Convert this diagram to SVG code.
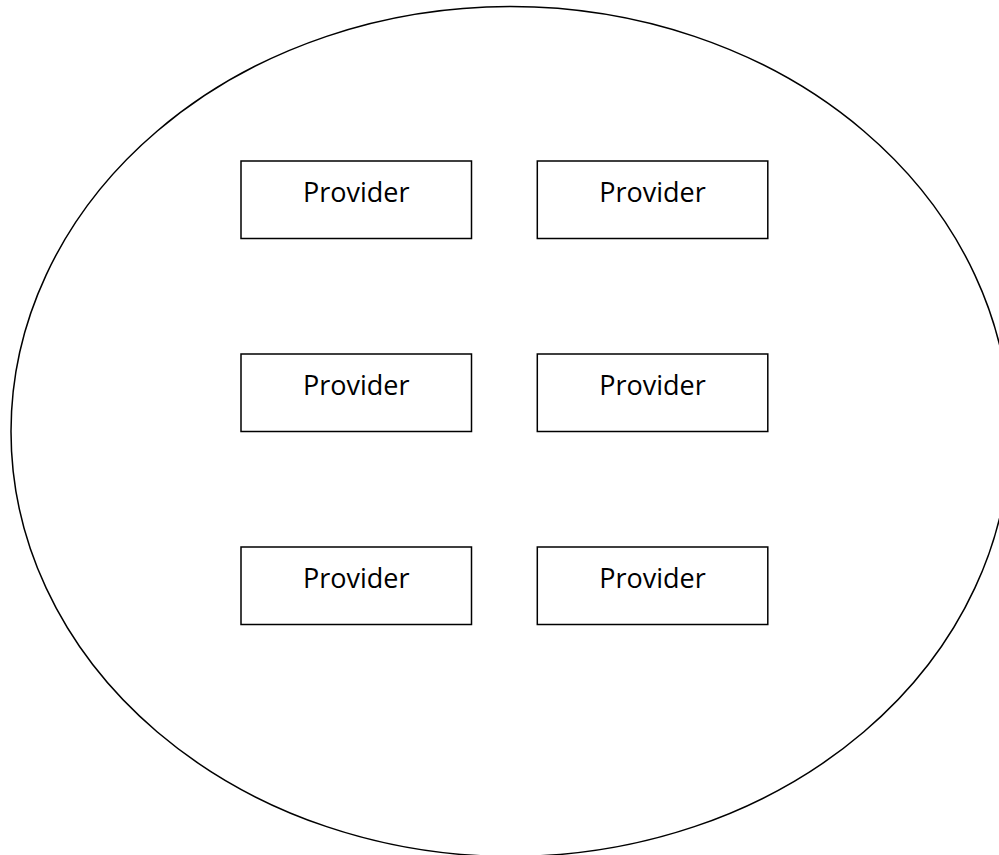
<svg xmlns="http://www.w3.org/2000/svg" width="999" height="855" viewBox="0 0 999 855">
<style>
.box{fill:#fff;stroke:#000;stroke-width:1.5}
.lbl{font-family:"Open Sans","Liberation Sans",sans-serif;font-size:27px;fill:#000;text-anchor:middle}
</style>
<rect width="999" height="855" fill="#fff"/>
<g id="boundary"><ellipse cx="510.5" cy="431.5" rx="499.5" ry="425" fill="none" stroke="#000" stroke-width="1.5"/></g>
<g id="p1"><rect class="box" x="241" y="161" width="230.5" height="77.5"/><text class="lbl" x="356.2" y="201.7">Provider</text></g>
<g id="p2"><rect class="box" x="537.3" y="161" width="230.5" height="77.5"/><text class="lbl" x="652.5" y="201.7">Provider</text></g>
<g id="p3"><rect class="box" x="241" y="354" width="230.5" height="77.5"/><text class="lbl" x="356.2" y="394.7">Provider</text></g>
<g id="p4"><rect class="box" x="537.3" y="354" width="230.5" height="77.5"/><text class="lbl" x="652.5" y="394.7">Provider</text></g>
<g id="p5"><rect class="box" x="241" y="547" width="230.5" height="77.5"/><text class="lbl" x="356.2" y="587.7">Provider</text></g>
<g id="p6"><rect class="box" x="537.3" y="547" width="230.5" height="77.5"/><text class="lbl" x="652.5" y="587.7">Provider</text></g>
<g id="connectors"></g>
</svg>
